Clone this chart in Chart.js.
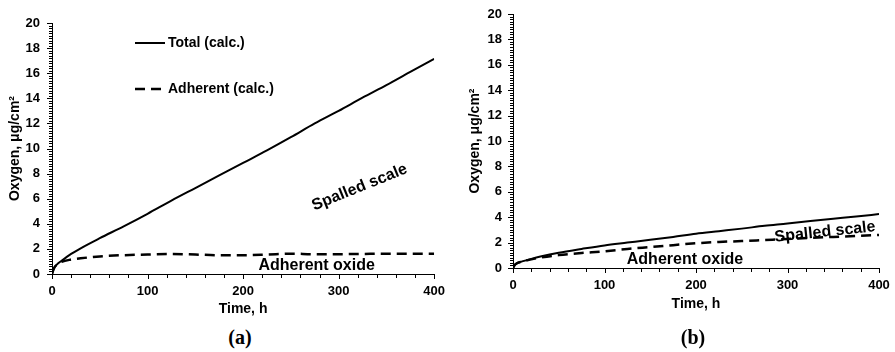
<!DOCTYPE html>
<html>
<head>
<meta charset="utf-8">
<script src="https://cdn.jsdelivr.net/npm/chart.js@4"></script>
<style>
    body { margin: 0; background: #fff; width: 895px; height: 352px; position: relative; overflow: hidden; }
    canvas { position: absolute; top: 0; }
    canvas.ticks-layer { pointer-events: none; }
    .panel-label {
        position: absolute;
        font: bold 20px "Liberation Serif", "Times New Roman", serif;
        transform: translate(-50%, -50%);
        color: #000;
    }
</style>
</head>
<body>
<canvas id="chartA" width="450" height="325" style="left:0"></canvas>
<canvas id="ticksA" class="ticks-layer" width="450" height="325" style="left:0"></canvas>
<canvas id="chartB" width="445" height="325" style="left:450px"></canvas>
<canvas id="ticksB" class="ticks-layer" width="445" height="325" style="left:450px"></canvas>
<div class="panel-label" style="left:240px; top:337px">(a)</div>
<div class="panel-label" style="left:693px; top:337px">(b)</div>
<script>
// exposure time, h
const timeHours = [0, 2, 5, 10, 20, 30, 50, 75, 100, 125, 150, 175, 200, 225, 250, 275, 300, 325, 350, 375, 400];

// panel (a): oxygen uptake, ug/cm2
const totalA     = [0, 0.45, 0.75, 1.05, 1.6, 2.05, 2.85, 3.8, 4.8, 5.85, 6.85, 7.85, 8.85, 9.85, 10.9, 12.0, 13.0, 14.05, 15.05, 16.1, 17.15];
const adherentA  = [0, 0.45, 0.75, 0.97, 1.15, 1.25, 1.4, 1.5, 1.55, 1.6, 1.55, 1.5, 1.5, 1.55, 1.62, 1.58, 1.58, 1.6, 1.62, 1.62, 1.62];

// panel (b)
const totalB     = [0, 0.25, 0.4, 0.52, 0.72, 0.9, 1.2, 1.5, 1.78, 2.0, 2.22, 2.45, 2.7, 2.9, 3.1, 3.32, 3.5, 3.7, 3.88, 4.05, 4.25];
const adherentB  = [0, 0.25, 0.4, 0.5, 0.68, 0.82, 1.02, 1.18, 1.32, 1.5, 1.65, 1.8, 1.95, 2.05, 2.12, 2.2, 2.28, 2.38, 2.45, 2.52, 2.6];

const seriesNames = ['Total (calc.)', 'Adherent (calc.)'];
const xTickLabels = [0, 100, 200, 300, 400];
const yTickLabels = [0, 2, 4, 6, 8, 10, 12, 14, 16, 18, 20];

const FONT = '"Liberation Sans", Arial, sans-serif';
const DASH = [10, 6];

function toPoints(values) {
    return timeHours.map((t, i) => ({ x: t, y: values[i] }));
}

function isMajor(value, list) {
    return list.some(v => Math.abs(v - value) < 1e-6);
}

// outward tick marks on their own canvas layer, placed by the chart's scales
const axisTicks = {
    id: 'axisTicks',
    afterRender(chart, args, opts) {
        const layer = document.getElementById(opts.layerId);
        if (!layer) return;
        const ctx = layer.getContext('2d');
        const { chartArea, scales: { x, y } } = chart;
        ctx.clearRect(0, 0, layer.width, layer.height);
        ctx.fillStyle = '#000';
        x.ticks.forEach(t => {
            const px = Math.round(x.getPixelForValue(t.value));
            const len = isMajor(t.value, xTickLabels) ? 5 : 4;
            ctx.fillRect(px, Math.round(chartArea.bottom), 1, len);
        });
        y.ticks.forEach(t => {
            const py = Math.round(y.getPixelForValue(t.value));
            const len = isMajor(t.value, yTickLabels) ? 5 : 3;
            ctx.fillRect(Math.round(chartArea.left) - len, py, len, 1);
        });
    }
};

// rotated region labels and the inner legend
const decorations = {
    id: 'decorations',
    afterDatasetsDraw(chart, args, opts) {
        const { ctx, chartArea, scales: { x, y } } = chart;

        ctx.save();
        ctx.fillStyle = '#000';
        ctx.font = 'bold 16px ' + FONT;
        ctx.textAlign = 'center';
        ctx.textBaseline = 'middle';
        (opts.items || []).forEach(item => {
            ctx.save();
            ctx.translate(x.getPixelForValue(item.t), y.getPixelForValue(item.v));
            ctx.rotate(item.angle * Math.PI / 180);
            ctx.fillText(item.text, 0, 0);
            ctx.restore();
        });
        ctx.restore();

        if (!opts.legend) return;
        ctx.save();
        ctx.font = 'bold 14px ' + FONT;
        ctx.textBaseline = 'middle';
        ctx.fillStyle = '#000';
        chart.data.datasets.forEach((ds, i) => {
            const x0 = chartArea.left + opts.legend.left;
            const yy = chartArea.top + opts.legend.rows[i];
            ctx.strokeStyle = ds.borderColor;
            ctx.lineWidth = ds.borderWidth;
            ctx.setLineDash(ds.borderDash || []);
            ctx.beginPath();
            ctx.moveTo(x0, yy);
            ctx.lineTo(x0 + (ds.borderDash ? 26 : 30), yy);
            ctx.stroke();
            ctx.setLineDash([]);
            ctx.fillText(ds.label, x0 + 33, yy);
        });
        ctx.restore();
    }
};

function buildChart(canvasId, total, adherent, cfg) {
    const ctx = document.getElementById(canvasId).getContext('2d');
    return new Chart(ctx, {
        type: 'line',
        data: {
            datasets: [{
                label: seriesNames[0],
                data: toPoints(total),
                borderColor: '#000',
                borderWidth: 2,
                pointRadius: 0,
                cubicInterpolationMode: 'monotone'
            }, {
                label: seriesNames[1],
                data: toPoints(adherent),
                borderColor: '#000',
                borderWidth: 2.5,
                borderDash: DASH,
                pointRadius: 0,
                cubicInterpolationMode: 'monotone'
            }]
        },
        options: {
            responsive: false,
            animation: false,
            devicePixelRatio: 1,
            layout: { padding: cfg.padding },
            scales: {
                x: {
                    type: 'linear',
                    min: 0,
                    max: 400,
                    afterFit: s => { s.height = cfg.xHeight; },
                    border: { display: true, color: '#000', width: 1 },
                    grid: { display: false, drawTicks: true, tickLength: 5 },
                    ticks: {
                        stepSize: 20,
                        autoSkip: false,
                        maxRotation: 0,
                        padding: 5,
                        color: '#000',
                        font: { family: FONT, size: 13, weight: 'bold' },
                        callback: v => isMajor(v, xTickLabels) ? Math.round(v) : ''
                    },
                    title: {
                        display: true,
                        text: 'Time, h',
                        color: '#000',
                        font: { family: FONT, size: 14, weight: 'bold' },
                        padding: { top: 0, bottom: cfg.xTitlePad }
                    }
                },
                y: {
                    min: 0,
                    max: 20,
                    afterFit: s => { s.width = cfg.yWidth; },
                    border: { display: true, color: '#000', width: 1 },
                    grid: { display: false, drawTicks: true, tickLength: 5 },
                    ticks: {
                        stepSize: 0.2,
                        autoSkip: false,
                        padding: cfg.yTickPad,
                        color: '#000',
                        font: { family: FONT, size: 13, weight: 'bold' },
                        callback: v => isMajor(v, yTickLabels) ? Math.round(v) : ''
                    },
                    title: {
                        display: true,
                        text: 'Oxygen, μg/cm²',
                        color: '#000',
                        font: { family: FONT, size: 14, weight: 'bold' },
                        padding: { top: cfg.yTitlePad, bottom: 0 }
                    }
                }
            },
            plugins: {
                legend: { display: false },
                tooltip: { enabled: false },
                axisTicks: { layerId: cfg.layerId },
                decorations: { items: cfg.labels, legend: cfg.legend }
            }
        },
        plugins: [axisTicks, decorations]
    });
}

buildChart('chartA', totalA, adherentA, {
    layerId: 'ticksA',
    padding: { left: 0, right: 14, top: 23, bottom: 0 },
    xHeight: 51,
    yWidth: 52,
    xTitlePad: 7,
    yTitlePad: 7,
    yTickPad: 7,
    legend: { left: 83, rows: [20, 66] },
    labels: [
        { text: 'Spalled scale', t: 322, v: 6.9, angle: -22 },
        { text: 'Adherent oxide', t: 277, v: 0.68, angle: 0 }
    ]
});

buildChart('chartB', totalB, adherentB, {
    layerId: 'ticksB',
    padding: { left: 0, right: 16, top: 14, bottom: 0 },
    xHeight: 57,
    yWidth: 63,
    xTitlePad: 12,
    yTitlePad: 17,
    yTickPad: 6,
    legend: null,
    labels: [
        { text: 'Spalled scale', t: 341, v: 2.83, angle: -6 },
        { text: 'Adherent oxide', t: 188, v: 0.68, angle: 0 }
    ]
});
</script>
</body>
</html>
